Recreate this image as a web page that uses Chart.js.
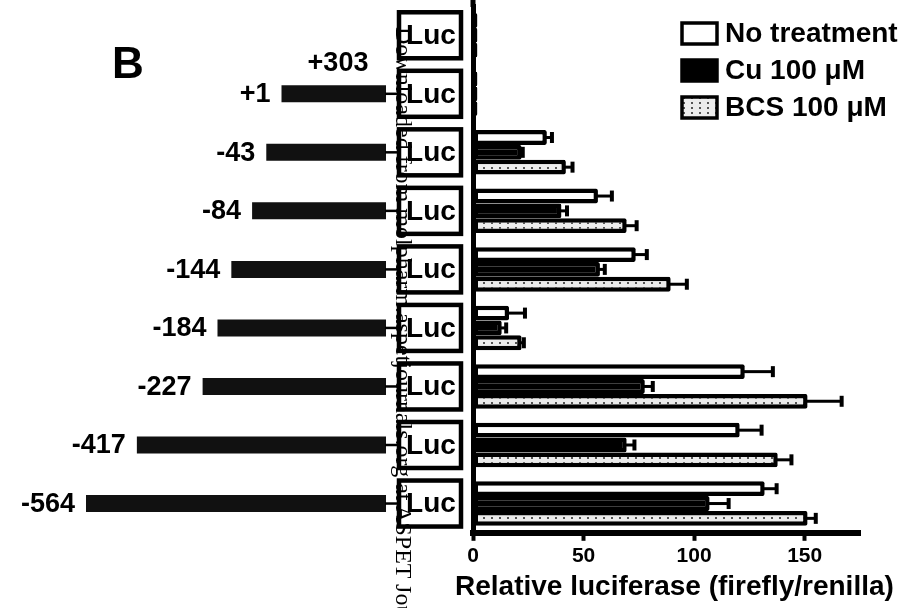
<!DOCTYPE html>
<html><head><meta charset="utf-8">
<script src="https://cdn.jsdelivr.net/npm/chart.js@4.4.1/dist/chart.umd.min.js"></script>
<style>
html,body{margin:0;padding:0;background:#fff;overflow:hidden;width:920px;height:608px;}
#wrap{position:relative;width:920px;height:608px;overflow:hidden;}
#c{position:absolute;left:0;top:0;}
#xtitle{position:absolute;left:455px;top:569px;font:bold 28px 'Liberation Sans',Arial,sans-serif;white-space:nowrap;color:#000;line-height:34px;}
#wm{position:absolute;left:393px;top:27px;writing-mode:vertical-rl;font:24px 'Liberation Serif','Times New Roman',serif;color:#000;white-space:nowrap;line-height:22px;}
</style></head><body>
<div id="wrap">
<canvas id="c" width="920" height="608"></canvas>
<div id="xtitle">Relative luciferase (firefly/renilla)</div>
<div id="wm">Downloaded from molpharm.aspetjournals.org at ASPET Jou</div>
</div>
<script>
// ---- data ----
const constructs = ['vector', '+1', '-43', '-84', '-144', '-184', '-227', '-417', '-564'];
const promoterStart = [null, 1, -43, -84, -144, -184, -227, -417, -564];
const promoterEnd = 303;
const seriesLabels = ['No treatment', 'Cu 100 \u03BCM', 'BCS 100 \u03BCM'];
const noTreatment    = [2, 2, 33.4, 56.5, 73.6, 16.3, 122.9, 120.6, 131.9];
const noTreatmentErr = [0, 0, 2.3, 6.3, 5.0, 7.2, 12.7, 9.9, 5.4];
const cu100          = [2, 2, 22.0, 40.0, 57.4, 13.0, 77.7, 69.5, 107.0];
const cu100Err       = [0, 0, 0.5, 2.5, 2.2, 2.0, 3.6, 3.5, 8.6];
const bcs100         = [2, 2, 42.0, 69.5, 89.4, 22.0, 151.3, 137.8, 151.3];
const bcs100Err      = [0, 0, 3.0, 4.5, 7.3, 1.0, 15.4, 6.2, 3.7];
const xTicks = [0, 50, 100, 150];

const FONT = "'Liberation Sans', Arial, sans-serif";
const canvas = document.getElementById('c');
const ctx0 = canvas.getContext('2d');

function dotPattern(){
  const t = document.createElement('canvas');
  t.width = 8; t.height = 5;
  const g = t.getContext('2d');
  g.fillStyle = '#ececec'; g.fillRect(0,0,8,5);
  g.fillStyle = '#555'; g.fillRect(3,2,2,2);
  return ctx0.createPattern(t, 'repeat');
}
const bcsFill = dotPattern();

const errs = [noTreatmentErr, cu100Err, bcs100Err];
const vals = [noTreatment, cu100, bcs100];

const decor = {
  id: 'decor',
  afterDatasetsDraw(chart){
    const ctx = chart.ctx, xs = chart.scales.x;
    ctx.save();
    ctx.strokeStyle = '#000';
    for (let d = 0; d < 3; d++){
      const meta = chart.getDatasetMeta(d);
      meta.data.forEach((el, i) => {
        if (!errs[d][i]) return;
        const x0 = xs.getPixelForValue(vals[d][i]);
        const x1 = xs.getPixelForValue(vals[d][i] + errs[d][i]);
        ctx.lineWidth = 3;
        ctx.beginPath(); ctx.moveTo(x0 - 2, el.y); ctx.lineTo(x1, el.y); ctx.stroke();
        ctx.lineWidth = 4;
        ctx.beginPath(); ctx.moveTo(x1, el.y - 5.5); ctx.lineTo(x1, el.y + 5.5); ctx.stroke();
      });
    }
    ctx.restore();
  },
  afterDraw(chart){
    const ctx = chart.ctx, ys = chart.scales.y, x2 = chart.scales.x2, ca = chart.chartArea;
    ctx.save();
    // extend y-axis line to top
    ctx.fillStyle = '#000';
    ctx.fillRect(ca.left - 2.5, 0, 5, ca.top + 1);
    // Luc boxes, connectors, start labels
    constructs.forEach((c, i) => {
      const yc = ys.getPixelForValue(i);
      const bx = 399, bw = 62, bh = 46;
      ctx.strokeStyle = '#000'; ctx.lineWidth = 4.5;
      ctx.strokeRect(bx, yc - bh/2, bw, bh);
      ctx.fillStyle = '#000';
      ctx.font = 'bold 28px ' + FONT;
      ctx.textAlign = 'center'; ctx.textBaseline = 'middle';
      ctx.fillText('Luc', bx + bw/2 + 1, yc + 1);
      if (promoterStart[i] !== null){
        const xs0 = x2.getPixelForValue(promoterStart[i]);
        const xe = x2.getPixelForValue(promoterEnd);
        ctx.lineWidth = 2.5;
        ctx.beginPath(); ctx.moveTo(xe - 1, yc); ctx.lineTo(bx - 2, yc); ctx.stroke();
        ctx.font = 'bold 27px ' + FONT;
        ctx.textAlign = 'right';
        ctx.fillText(c, xs0 - 11, yc + 1);
        if (i === 1){
          ctx.textAlign = 'center';
          ctx.fillText('+' + promoterEnd, xe - 48, yc - 30);
        }
      }
    });
    // panel letter
    ctx.font = 'bold 44px ' + FONT;
    ctx.textAlign = 'left'; ctx.textBaseline = 'middle';
    ctx.fillText('B', 112, 66);
    // legend
    const ly = [33, 70, 107];
    const ds = chart.data.datasets;
    for (let d = 0; d < 3; d++){
      const y = ly[d];
      ctx.fillStyle = ds[d].backgroundColor;
      ctx.fillRect(682, y - 10, 35, 21);
      ctx.strokeStyle = '#000'; ctx.lineWidth = 3.5;
      ctx.strokeRect(682, y - 10, 35, 21);
      ctx.fillStyle = '#000';
      ctx.font = 'bold 28px ' + FONT;
      ctx.textAlign = 'left'; ctx.textBaseline = 'middle';
      ctx.fillText(ds[d].label, 725, y + 1);
    }
    ctx.restore();
  }
};

const barCommon = {
  borderColor: '#000', borderWidth: 4.5, borderSkipped: false, borderRadius: 2,
  categoryPercentage: 0.76, barPercentage: 1.0, xAxisID: 'x'
};

new Chart(canvas, {
  type: 'bar',
  data: {
    labels: constructs,
    datasets: [
      Object.assign({ label: seriesLabels[0], data: noTreatment, backgroundColor: '#ffffff' }, barCommon),
      Object.assign({ label: seriesLabels[1], data: cu100, backgroundColor: '#000000' }, barCommon),
      Object.assign({ label: seriesLabels[2], data: bcs100, backgroundColor: bcsFill }, barCommon),
      { label: 'promoter', data: promoterStart.map(s => s === null ? null : [s, promoterEnd]),
        backgroundColor: '#111', borderWidth: 0, xAxisID: 'x2', grouped: false,
        maxBarThickness: 17, clip: false }
    ]
  },
  options: {
    indexAxis: 'y',
    responsive: false,
    animation: false,
    devicePixelRatio: 1,
    layout: { padding: { left: 473, right: 60, top: 6, bottom: 36 } },
    plugins: { legend: { display: false }, tooltip: { enabled: false } },
    scales: {
      x: {
        type: 'linear', position: 'bottom', min: 0, max: 175,
        afterBuildTicks: s => { s.ticks = xTicks.map(v => ({ value: v })); },
        ticks: { color: '#000', padding: 3, font: { family: FONT, size: 21, weight: 'bold' } },
        grid: { drawOnChartArea: false, drawTicks: true, tickLength: 8, tickWidth: 4, tickColor: '#000' },
        border: { display: true, color: '#000', width: 6 }
      },
      x2: { type: 'linear', position: 'bottom', display: false, min: 554.4, max: 1672.8 },
      y: {
        type: 'category', position: 'left',
        ticks: { display: false },
        grid: { display: false, drawTicks: false },
        border: { display: true, color: '#000', width: 5 }
      }
    }
  },
  plugins: [decor]
});
</script>
</body></html>
